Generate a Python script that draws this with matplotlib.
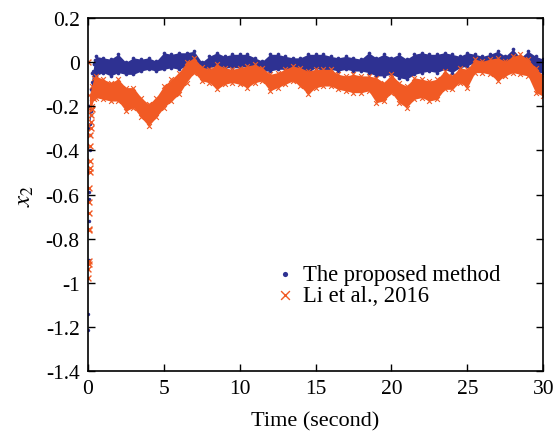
import numpy as np
import matplotlib
matplotlib.use("Agg")
import matplotlib.pyplot as plt

plt.rcParams["font.family"] = ["Liberation Serif", "DejaVu Serif"]
plt.rcParams["mathtext.fontset"] = "stix"
plt.rcParams["axes.unicode_minus"] = False

BLUE = "#2E3192"
ORANGE = "#F15A24"

# sampling times of the band readings (s)
t_band = [0.5, 1.0, 1.5, 2.0, 2.5, 3.0, 3.5, 4.0, 4.5, 5.0,
          5.5, 6.0, 6.5, 7.0, 7.5, 8.0, 8.5, 9.0, 9.5, 10.0,
          10.5, 11.0, 11.5, 12.0, 12.5, 13.0, 13.5, 14.0, 14.5, 15.0,
          15.5, 16.0, 16.5, 17.0, 17.5, 18.0, 18.5, 19.0, 19.5, 20.0,
          20.5, 21.0, 21.5, 22.0, 22.5, 23.0, 23.5, 24.0, 24.5, 25.0,
          25.5, 26.0, 26.5, 27.0, 27.5, 28.0, 28.5, 29.0, 29.5, 30.0]

# proposed method: upper / lower edge of the noisy band
prop_hi = [0.027, 0.020, 0.014, 0.036, 0.000, 0.020, 0.014, 0.020, 0.005, 0.043,
           0.036, 0.043, 0.043, 0.050, 0.000, 0.027, 0.043, 0.027, 0.036, 0.036,
           0.036, 0.020, 0.005, 0.036, 0.036, 0.027, 0.020, 0.020, 0.036, 0.036,
           0.036, 0.027, 0.020, 0.027, 0.020, 0.014, 0.043, 0.020, 0.036, 0.020,
           0.036, 0.014, 0.036, 0.043, 0.036, 0.036, 0.043, 0.036, 0.027, 0.043,
           0.036, 0.027, 0.036, 0.050, 0.027, 0.059, 0.020, 0.050, 0.027, 0.014]
prop_lo = [-0.062, -0.047, -0.062, -0.047, -0.055, -0.055, -0.040, -0.032, -0.040, -0.032,
           -0.025, -0.032, -0.017, -0.010, -0.032, -0.025, -0.017, -0.025, -0.025, -0.025,
           -0.017, -0.025, -0.040, -0.040, -0.032, -0.032, -0.025, -0.032, -0.047, -0.025,
           -0.040, -0.032, -0.040, -0.032, -0.040, -0.040, -0.047, -0.062, -0.062, -0.055,
           -0.070, -0.077, -0.055, -0.047, -0.040, -0.047, -0.032, -0.047, -0.025, -0.017,
           0.000, 0.000, -0.010, 0.000, -0.010, 0.014, -0.017, -0.017, -0.047, -0.047]

# Li et al., 2016: upper / lower edge of the noisy band
li_hi = [-0.062, -0.077, -0.092, -0.077, -0.115, -0.115, -0.160, -0.190, -0.160, -0.108,
         -0.077, -0.047, 0.000, 0.020, -0.020, -0.032, -0.010, -0.025, -0.032, -0.025,
         -0.017, -0.010, -0.025, -0.055, -0.047, -0.032, -0.017, -0.025, -0.040, -0.032,
         -0.032, -0.032, -0.055, -0.062, -0.055, -0.062, -0.062, -0.070, -0.092, -0.055,
         -0.092, -0.108, -0.070, -0.077, -0.085, -0.077, -0.040, -0.062, -0.025, -0.032,
         0.014, 0.005, 0.014, 0.020, 0.005, 0.027, 0.036, 0.014, -0.025, -0.062]
li_lo = [-0.160, -0.168, -0.176, -0.176, -0.221, -0.206, -0.250, -0.289, -0.250, -0.206,
         -0.176, -0.146, -0.092, -0.047, -0.085, -0.092, -0.123, -0.100, -0.092, -0.100,
         -0.115, -0.092, -0.085, -0.130, -0.115, -0.100, -0.085, -0.108, -0.146, -0.115,
         -0.108, -0.108, -0.123, -0.130, -0.138, -0.138, -0.130, -0.183, -0.176, -0.138,
         -0.183, -0.206, -0.168, -0.160, -0.176, -0.168, -0.123, -0.123, -0.092, -0.115,
         -0.047, -0.047, -0.055, -0.085, -0.062, -0.047, -0.055, -0.062, -0.138, -0.153]

# initial transient, individual samples
prop_t0 = [0.0, 0.01, 0.04, 0.06, 0.08, 0.09, 0.10, 0.12, 0.14, 0.16, 0.18, 0.22, 0.28, 0.35, 0.42]
prop_v0 = [-1.14, -1.215, -0.895, -0.72, -0.62, -0.59, -0.50, -0.40, -0.33, -0.28, -0.24,
           -0.17, -0.09, -0.04, -0.01]
prop_hi0 = [-0.20, -0.12, -0.05, -0.01, 0.01]
prop_lo0 = [-0.30, -0.22, -0.13, -0.08, -0.06]
prop_tb0 = [0.1, 0.2, 0.3, 0.4, 0.45]

li_t0 = [0.0, 0.02, 0.03, 0.04, 0.05, 0.06, 0.07, 0.08, 0.09, 0.10, 0.11, 0.12, 0.13,
         0.14, 0.16, 0.18, 0.20, 0.22, 0.25]
li_v0 = [0.0, -0.98, -0.94, -0.915, -0.90, -0.755, -0.76, -0.685, -0.635, -0.57, -0.50,
         -0.48, -0.45, -0.38, -0.33, -0.30, -0.27, -0.24, -0.21]
li_hi0 = [-0.15, -0.108, -0.07]
li_lo0 = [-0.21, -0.198, -0.165]
li_tb0 = [0.1, 0.25, 0.4]

fig = plt.figure(figsize=(5.6, 4.35), dpi=100)
ax = fig.add_axes([0.157, 0.145, 0.813, 0.811])

tb = np.array(prop_tb0 + t_band)
hi = np.array(prop_hi0 + prop_hi)
lo = np.array(prop_lo0 + prop_lo)
ax.fill_between(tb, lo, hi, color=BLUE, lw=0)
ax.scatter(tb, hi, s=7, color=BLUE, lw=0)
ax.scatter(tb, lo, s=7, color=BLUE, lw=0)
ax.scatter(prop_t0, prop_v0, s=6, color=BLUE, lw=0)

tb = np.array(li_tb0 + t_band)
hi = np.array(li_hi0 + li_hi)
lo = np.array(li_lo0 + li_lo)
ax.fill_between(tb, lo, hi, color=ORANGE, lw=0)
ax.scatter(tb, hi, s=12, color=ORANGE, marker="x", lw=0.8)
ax.scatter(tb, lo, s=12, color=ORANGE, marker="x", lw=0.8)
ax.scatter(li_t0, li_v0, s=18, color=ORANGE, marker="x", lw=1.0)

# legend handles
ax.scatter([], [], s=14, color=BLUE, lw=0, label="The proposed method")
ax.scatter([], [], s=40, color=ORANGE, marker="x", lw=1.0, label="Li et al., 2016")
handles, labels = ax.get_legend_handles_labels()
ax.legend(handles[-2:], labels[-2:], loc="upper left", bbox_to_anchor=(0.388, 0.335),
          frameon=False, fontsize=16.3, handlelength=0.8, handletextpad=0.4,
          labelspacing=0.0, borderpad=0)

ax.set_xlim(0, 30)
ax.set_ylim(-1.4, 0.2)
ax.set_xticks([0, 5, 10, 15, 20, 25, 30])
ax.set_yticks([-1.4, -1.2, -1, -0.8, -0.6, -0.4, -0.2, 0, 0.2])
ax.set_yticklabels(["-1.4", "-1.2", "-1", "-0.8", "-0.6", "-0.4", "-0.2", "0", "0.2"])
ax.tick_params(direction="in", top=True, right=True, length=5, width=1, labelsize=15.5, pad=6)
for sp in ax.spines.values():
    sp.set_linewidth(1.2)

ax.set_xlabel("Time (second)", fontsize=16, labelpad=9)
ax.set_ylabel("$x_2$", fontsize=18, labelpad=7)

plt.savefig("out.png", dpi=100)
